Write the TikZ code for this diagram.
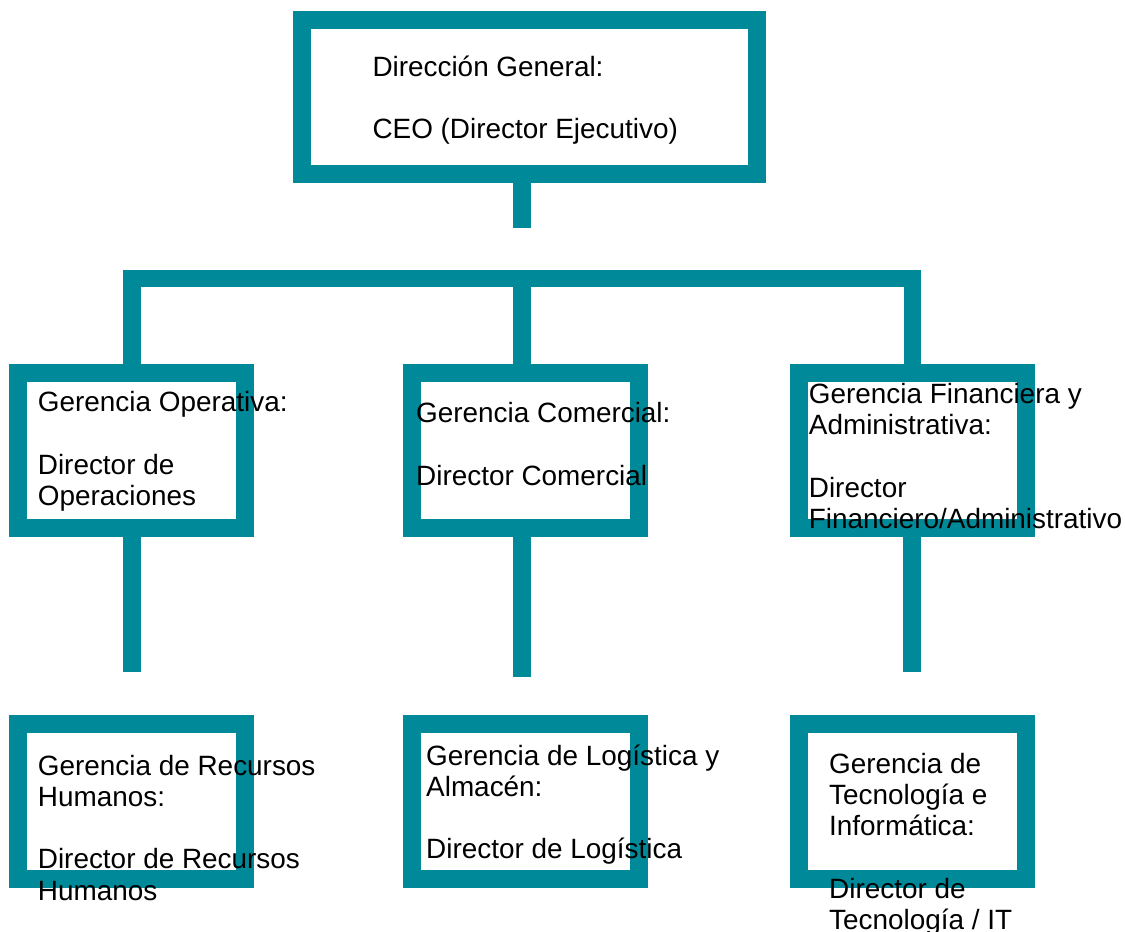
\documentclass[tikz,border=0pt]{standalone}
\usepackage{fontspec}
\setmainfont{Liberation Sans}
\usepackage{tikz}
\usetikzlibrary{positioning}
\definecolor{myteal}{RGB}{0,138,153}
\newcommand{\boxtext}[1]{\begin{tabular}[t]{@{}l@{}}#1\end{tabular}}

\begin{document}
\begin{tikzpicture}[x=1pt,y=-1pt,inner sep=0pt]
\tikzstyle{unit}=[rectangle, draw=myteal, line width=18pt, fill=white, minimum width=227pt, minimum height=154.2pt]
\tikzstyle{link}=[draw=myteal, line width=17.4pt]
\tikzstyle{txt}=[anchor=base west, font=\fontsize{27.9}{31.3}\selectfont]
\useasboundingbox (0,0) rectangle (1125,932);
\node[unit,minimum width=454.4pt] (ceo) at (529.5,97.2) {};
\node[unit] (gop) at (131.8,450.4) {};
\node[unit] (gcom) [right=148.4pt of gop] {};
\node[unit] (gfin) [right=142pt of gcom] {};
\node[unit] (grh) [below=178.8pt of gop] {};
\node[unit] (glog) [below=178.8pt of gcom] {};
\node[unit] (gtec) [below=178.8pt of gfin] {};
\coordinate (ceo-end) at (521.8,227.7);
\coordinate (bus) at (522,278.7);
\coordinate (gop-end) at (132,671.7);
\coordinate (gcom-end) at (522,677.3);
\coordinate (gfin-end) at (912,671.7);
\draw[link] (ceo-end |- ceo.south) -- (ceo-end);
\draw[link] (gop.north) -- (gop.north |- bus) -- (gfin.north |- bus) -- (gfin.north);
\draw[link] (bus) -- (bus |- gcom.north);
\draw[link] (gop-end |- gop.south) -- (gop-end);
\draw[link] (gcom-end |- gcom.south) -- (gcom-end);
\draw[link] (gfin-end |- gfin.south) -- (gfin-end);
\node[txt] (ceo-txt) at (372.3,76) {\boxtext{Dirección General:\\ \\ CEO (Director Ejecutivo)}};
\node[txt] (gop-txt) at (37.7,411.7) {\boxtext{Gerencia Operativa:\\ \\ Director de\\ Operaciones}};
\node[txt] (gcom-txt) at (416,422.7) {\boxtext{Gerencia Comercial:\\ \\ Director Comercial}};
\node[txt] (gfin-txt) at (808.7,403.3) {\boxtext{Gerencia Financiera y\\ Administrativa:\\ \\ Director\\ Financiero/Administrativo}};
\node[txt] (grh-txt) at (37.7,775) {\boxtext{Gerencia de Recursos\\ Humanos:\\ \\ Director de Recursos\\ Humanos}};
\node[txt] (glog-txt) at (426,765) {\boxtext{Gerencia de Logística y\\ Almacén:\\ \\ Director de Logística}};
\node[txt] (gtec-txt) at (829,773.3) {\boxtext{Gerencia de\\ Tecnología e\\ Informática:\\ \\ Director de\\ Tecnología / IT}};
\end{tikzpicture}
\end{document}
